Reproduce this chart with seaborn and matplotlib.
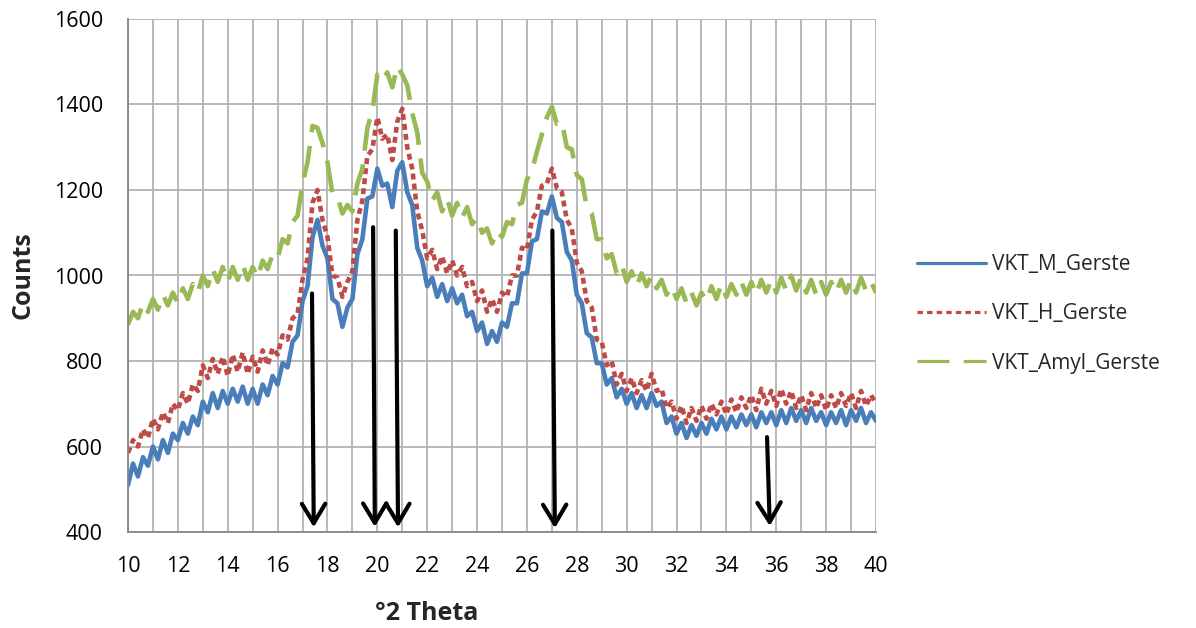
import numpy as np
import pandas as pd
import matplotlib
matplotlib.use("Agg")
import matplotlib.pyplot as plt
from matplotlib.ticker import MultipleLocator
import seaborn as sns

# ---------------- data ----------------
theta = np.round(np.linspace(10, 40, 151), 1)

vkt_m = [510, 560, 530, 575, 555,  600, 570, 615, 585, 630,
         615, 655, 630, 670, 650,  705, 680, 725, 690, 730,
         700, 735, 705, 740, 700,  735, 700, 745, 720, 765,
         745, 795, 785, 845, 860,  940, 975, 1090, 1130, 1070,
         1040, 945, 935, 880, 925,  945, 1050, 1085, 1180, 1185,
         1250, 1210, 1215, 1160, 1245,  1265, 1195, 1165, 1065, 1035,
         975, 995, 950, 980, 940,  970, 935, 955, 905, 915,
         870, 890, 840, 870, 845,  890, 880, 935, 935, 1005,
         1005, 1080, 1085, 1150, 1145,  1185, 1135, 1125, 1055, 1035,
         955, 935, 865, 855, 795,  795, 745, 760, 715, 735,
         700, 725, 690, 720, 690,  725, 695, 705, 655, 670,
         630, 655, 620, 650, 625,  655, 630, 665, 640, 670,
         640, 670, 645, 675, 650,  675, 645, 680, 655, 680,
         650, 685, 655, 690, 660,  685, 655, 690, 660, 680,
         650, 680, 655, 685, 650,  685, 660, 690, 655, 680,
         660]

vkt_h = [585, 615, 600, 640, 620,  665, 640, 680, 655, 700,
         685, 725, 700, 745, 730,  790, 760, 805, 770, 810,
         765, 815, 775, 820, 770,  810, 775, 825, 790, 830,
         815, 860, 850, 900, 910,  990, 1040, 1170, 1200, 1130,
         1090, 1000, 995, 950, 985,  1010, 1130, 1175, 1280, 1295,
         1370, 1320, 1330, 1270, 1360,  1390, 1300, 1250, 1150, 1105,
         1040, 1060, 1015, 1045, 1005,  1035, 1000, 1020, 975, 985,
         940, 965, 915, 945, 915,  960, 950, 1000, 1000, 1065,
         1060, 1130, 1150, 1210, 1215,  1250, 1205, 1195, 1130, 1110,
         1030, 1010, 940, 925, 850,  845, 790, 800, 745, 770,
         730, 760, 725, 755, 730,  770, 730, 735, 690, 705,
         665, 695, 655, 690, 660,  695, 665, 700, 675, 705,
         675, 710, 680, 715, 690,  720, 685, 735, 700, 730,
         695, 735, 700, 730, 690,  720, 685, 725, 690, 720,
         685, 720, 690, 725, 695,  725, 690, 730, 695, 720,
         700]

vkt_amyl = [885, 915, 900, 935, 915,  945, 920, 955, 930, 960,
            935, 970, 945, 980, 960,  1000, 975, 1015, 985, 1020,
            985, 1020, 990, 1025, 990,  1020, 995, 1035, 1015, 1050,
            1040, 1085, 1075, 1125, 1140,  1215, 1265, 1350, 1345, 1310,
            1265, 1190, 1185, 1145, 1165,  1150, 1215, 1250, 1345, 1385,
            1470, 1455, 1475, 1440, 1490,  1470, 1445, 1380, 1335, 1240,
            1220, 1175, 1195, 1150, 1180,  1140, 1170, 1135, 1160, 1120,
            1135, 1100, 1110, 1075, 1105,  1090, 1125, 1120, 1165, 1170,
            1225, 1245, 1290, 1330, 1370,  1395, 1355, 1360, 1300, 1295,
            1235, 1225, 1160, 1145, 1085,  1085, 1040, 1050, 1005, 1025,
            985, 1010, 975, 1005, 975,  1000, 970, 990, 955, 975,
            945, 970, 935, 960, 930,  960, 940, 975, 945, 980,
            950, 980, 955, 985, 955,  985, 955, 990, 960, 990,
            960, 995, 965, 1000, 965,  995, 960, 990, 955, 985,
            955, 985, 960, 990, 960,  990, 960, 995, 965, 985,
            960]

series_names = ["VKT_M_Gerste", "VKT_H_Gerste", "VKT_Amyl_Gerste"]

# arrows marking reflections (data coordinates: start -> end)
arrow_x_start = [17.38, 19.83, 20.74, 27.02, 35.63]
arrow_y_start = [958, 1113, 1105, 1105, 622]
arrow_x_end = [17.45, 19.90, 20.83, 27.12, 35.74]
arrow_y_end = [411, 412, 411, 409, 414]

x_ticks = list(range(10, 41, 2))
y_ticks = list(range(400, 1601, 200))

# ---------------- figure ----------------
df = pd.DataFrame({
    "theta": np.concatenate([theta, theta, theta]),
    "counts": np.concatenate([vkt_m, vkt_h, vkt_amyl]),
    "series": np.repeat(series_names, len(theta)),
})

sns.set_style("white")
plt.rcParams["font.family"] = ["Open Sans", "DejaVu Sans"]

fig = plt.figure(figsize=(11.96, 6.28), dpi=100)
ax = fig.add_axes([128 / 1196, 1 - 532 / 628, (876 - 128) / 1196, (532 - 19) / 628])

palette = {"VKT_M_Gerste": "#4A7EBB", "VKT_H_Gerste": "#BE4B48",
           "VKT_Amyl_Gerste": "#98B954"}
styles = ["-", (0, (1.3, 0.9)), (0, (7.0, 3.0))]
sns.lineplot(data=df, x="theta", y="counts", hue="series", hue_order=series_names,
             palette=palette, ax=ax, linewidth=3.3, legend=False, sort=False)

for ln, ls in zip(ax.get_lines(), styles):
    ln.set_linestyle(ls)
    ln.set_solid_joinstyle("round")
    ln.set_dash_joinstyle("round")

ax.set_xlim(10, 40)
ax.set_ylim(400, 1600)
ax.set_xticks(x_ticks)
ax.set_yticks(y_ticks)
ax.xaxis.set_minor_locator(MultipleLocator(1))
ax.grid(True, which="both", axis="x", color="#B3B3B3", linewidth=1.3)
ax.grid(True, which="major", axis="y", color="#B3B3B3", linewidth=1.3)
ax.set_axisbelow(True)
ax.tick_params(axis="both", which="major", direction="out", length=6, width=1.3,
               color="#868686", labelsize=15.5, labelcolor="black")
ax.tick_params(axis="x", which="major", pad=11)
ax.tick_params(axis="y", which="major", pad=12)
ax.tick_params(axis="x", which="minor", length=0)

for side in ["top", "right"]:
    ax.spines[side].set_visible(False)
for side in ["left", "bottom"]:
    ax.spines[side].set_color("#868686")
    ax.spines[side].set_linewidth(1.3)

ax.set_xlabel("")
ax.set_ylabel("")
fig.text(427 / 1196, 1 - 614 / 628, "°2 Theta", fontsize=18, fontweight="bold",
         ha="center", va="center")
fig.text(23 / 1196, 1 - 275 / 628, "Counts", fontsize=18, fontweight="bold",
         ha="center", va="center", rotation=90)

for xs, ys, xe, ye in zip(arrow_x_start, arrow_y_start, arrow_x_end, arrow_y_end):
    ax.annotate("", xy=(xe, ye), xytext=(xs, ys),
                arrowprops=dict(arrowstyle="->,head_length=0.7,head_width=0.42",
                                lw=3, color="black", mutation_scale=20,
                                shrinkA=0, shrinkB=0))

handles = [plt.Line2D([], [], color=palette[n], linewidth=2.3, linestyle=ls)
           for n, ls in zip(series_names, ["-", (0, (1.7, 1.3)), (0, (10, 4.5))])]
fig.legend(handles, series_names, loc="center left",
           bbox_to_anchor=(907 / 1196, 1 - 314 / 628), frameon=False,
           fontsize=15, handlelength=3.3, handletextpad=0.3,
           labelspacing=1.35, borderpad=0)

fig.savefig("out.png", dpi=100)
